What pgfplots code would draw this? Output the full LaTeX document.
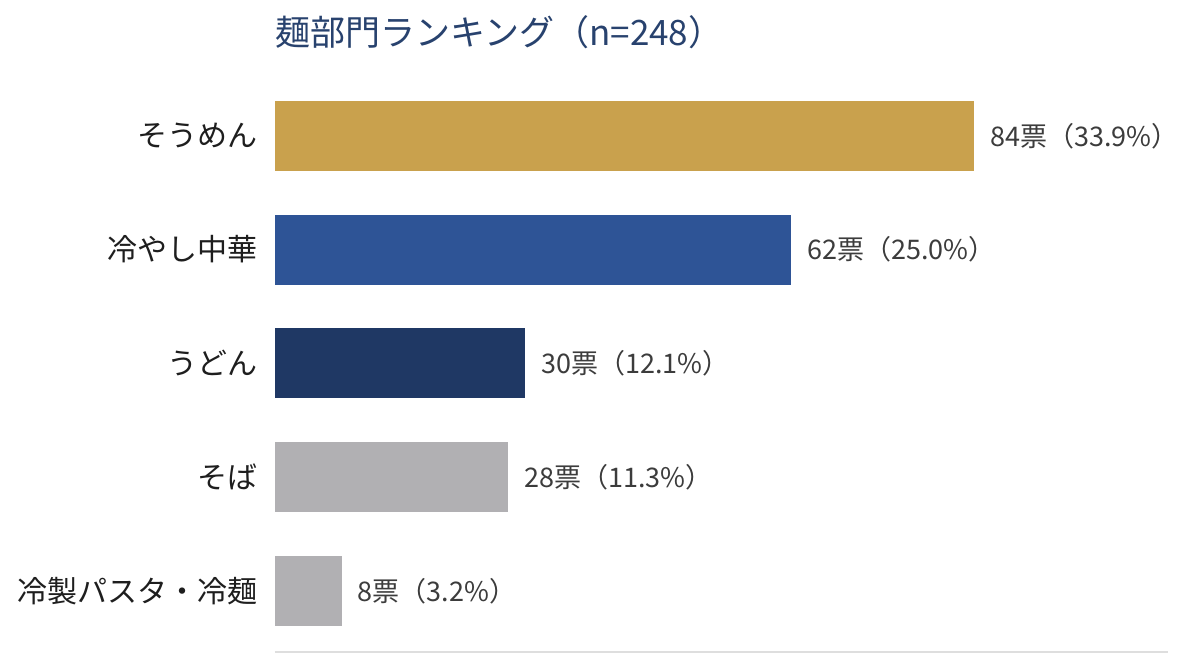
\documentclass[border=0pt]{standalone}
\usepackage{pgfplots}
\pgfplotsset{compat=1.18}
\usepackage{fontspec}
\setmainfont{Noto Sans CJK JP}

\definecolor{cgold}{RGB}{201,161,77}
\definecolor{cblue}{RGB}{46,84,150}
\definecolor{cnavy}{RGB}{31,56,100}
\definecolor{cgray}{RGB}{177,176,179}
\definecolor{ctitle}{RGB}{40,66,110}
\definecolor{clabel}{RGB}{30,30,30}
\definecolor{cvalue}{RGB}{60,60,60}

\begin{document}
\begin{tikzpicture}
\useasboundingbox (0,0) rectangle (600pt,335pt);
\node[anchor=west, inner sep=0pt, text=ctitle, font=\fontsize{17.5}{20}\selectfont]
  at (137.5pt,319pt) {麺部門ランキング（n=248）};
\begin{axis}[
  at={(137.5pt,9pt)}, anchor=south west,
  width=446.5pt, height=286pt, scale only axis,
  xbar, bar width=35pt, bar shift=0pt,
  xmin=0, xmax=107.3,
  ymin=-0.536, ymax=4.49,
  axis x line=bottom,
  x axis line style={-, draw=black!13, line width=1pt},
  xtick=\empty,
  axis y line*=left,
  y axis line style={draw=none},
  ytick={0,1,2,3,4},
  yticklabels={冷製パスタ・冷麺, そば, うどん, 冷やし中華, そうめん},
  major tick length=0pt,
  yticklabel style={anchor=east, inner sep=0pt, xshift=-8.5pt, text=clabel,
    font=\fontsize{15}{18}\selectfont},
  point meta=explicit symbolic,
  nodes near coords,
  nodes near coords style={anchor=west, inner sep=0pt, xshift=8pt, text=cvalue,
    font=\fontsize{13.5}{16}\selectfont},
  every axis plot/.append style={draw=none},
  clip=false,
]
\addplot[fill=cgold] coordinates {(84,4) [84票（33.9\%）]};
\addplot[fill=cblue] coordinates {(62,3) [62票（25.0\%）]};
\addplot[fill=cnavy] coordinates {(30,2) [30票（12.1\%）]};
\addplot[fill=cgray] coordinates {(28,1) [28票（11.3\%）]};
\addplot[fill=cgray] coordinates {(8,0) [8票（3.2\%）]};
\end{axis}
\end{tikzpicture}
\end{document}
